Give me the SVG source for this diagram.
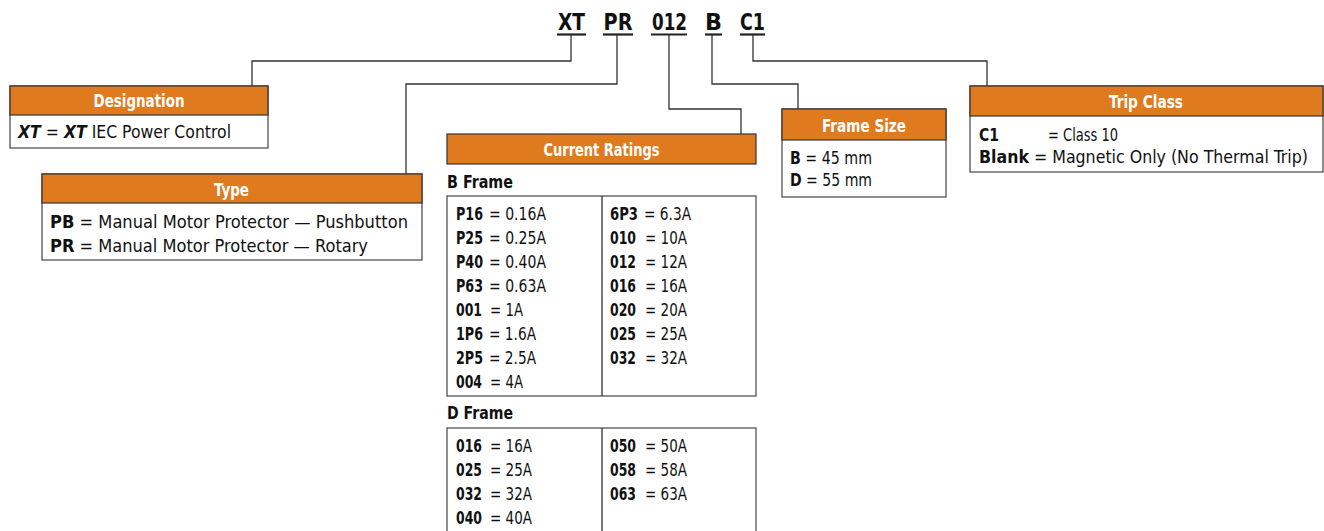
<svg xmlns="http://www.w3.org/2000/svg" width="1324" height="531" viewBox="0 0 1324 531">
<style>
text{font-family:"Liberation Sans Narrow","DejaVu Sans Condensed","Roboto Condensed",sans-serif;fill:#111;}
.code{font-size:22.5px;font-weight:bold;text-anchor:middle;}
.hdr{fill:#E07A1F;stroke:#333;stroke-width:1.2;}
.box{fill:#fff;stroke:#444;stroke-width:1.2;}
.ht{font-size:17px;font-weight:bold;fill:#fff;text-anchor:middle;}
.t{font-size:18px;}
.b{font-weight:bold;}
.sub{font-size:18px;font-weight:bold;}
.ln{fill:none;stroke:#333;stroke-width:1.3;}
.ul{stroke:#222;stroke-width:2.2;}
</style>
<g id="code">
<text class="code" x="571.5" y="30" textLength="27" lengthAdjust="spacingAndGlyphs">XT</text>
<text class="code" x="618" y="30" textLength="29" lengthAdjust="spacingAndGlyphs">PR</text>
<text class="code" x="669.5" y="30" textLength="35" lengthAdjust="spacingAndGlyphs">012</text>
<text class="code" x="713.5" y="30" textLength="17" lengthAdjust="spacingAndGlyphs">B</text>
<text class="code" x="752.5" y="30" textLength="25" lengthAdjust="spacingAndGlyphs">C1</text>
<line class="ul" x1="557" y1="34.5" x2="586" y2="34.5"/>
<line class="ul" x1="603" y1="34.5" x2="633" y2="34.5"/>
<line class="ul" x1="651" y1="34.5" x2="687" y2="34.5"/>
<line class="ul" x1="705" y1="34.5" x2="722" y2="34.5"/>
<line class="ul" x1="740" y1="34.5" x2="765" y2="34.5"/>
</g>
<g id="connectors">
<polyline class="ln" points="571,35 571,61 252,61 252,86"/>
<polyline class="ln" points="617,35 617,84 406,84 406,174"/>
<polyline class="ln" points="669,35 669,109 741,109 741,134"/>
<polyline class="ln" points="712,35 712,84 798,84 798,109"/>
<polyline class="ln" points="753,35 753,61 987,61 987,86"/>
</g>
<g id="designation">
<rect class="box" x="10" y="86" width="258" height="62"/>
<rect class="hdr" x="10" y="86" width="258" height="29"/>
<text class="ht" x="139" y="107" textLength="91" lengthAdjust="spacingAndGlyphs">Designation</text>
<text class="t" x="18" y="138" textLength="213" lengthAdjust="spacingAndGlyphs"><tspan class="b" font-style="italic">XT</tspan> = <tspan class="b" font-style="italic">XT</tspan> IEC Power Control</text>
</g>
<g id="type">
<rect class="box" x="42" y="174" width="380" height="86"/>
<rect class="hdr" x="42" y="174" width="380" height="29"/>
<text class="ht" x="231.5" y="196" textLength="35" lengthAdjust="spacingAndGlyphs">Type</text>
<text class="t" x="50" y="228" textLength="358" lengthAdjust="spacingAndGlyphs"><tspan class="b">PB</tspan> = Manual Motor Protector — Pushbutton</text>
<text class="t" x="50" y="252" textLength="318" lengthAdjust="spacingAndGlyphs"><tspan class="b">PR</tspan> = Manual Motor Protector — Rotary</text>
</g>
<g id="current-ratings">
<rect class="hdr" x="447" y="134" width="309" height="30"/>
<text class="ht" x="601.5" y="156" textLength="116" lengthAdjust="spacingAndGlyphs">Current Ratings</text>
<text class="sub" x="447" y="188" textLength="66" lengthAdjust="spacingAndGlyphs">B Frame</text>
<rect class="box" x="447" y="196" width="309" height="200"/>
<line class="ln" x1="602" y1="196" x2="602" y2="396"/>
<text class="t b" x="456" y="220" textLength="27" lengthAdjust="spacingAndGlyphs">P16</text><text class="t" x="489" y="220" textLength="57" lengthAdjust="spacingAndGlyphs">= 0.16A</text>
<text class="t b" x="456" y="244" textLength="27" lengthAdjust="spacingAndGlyphs">P25</text><text class="t" x="489" y="244" textLength="57" lengthAdjust="spacingAndGlyphs">= 0.25A</text>
<text class="t b" x="456" y="268" textLength="27" lengthAdjust="spacingAndGlyphs">P40</text><text class="t" x="489" y="268" textLength="57" lengthAdjust="spacingAndGlyphs">= 0.40A</text>
<text class="t b" x="456" y="292" textLength="27" lengthAdjust="spacingAndGlyphs">P63</text><text class="t" x="489" y="292" textLength="57" lengthAdjust="spacingAndGlyphs">= 0.63A</text>
<text class="t b" x="456" y="316" textLength="26" lengthAdjust="spacingAndGlyphs">001</text><text class="t" x="490" y="316" textLength="33" lengthAdjust="spacingAndGlyphs">= 1A</text>
<text class="t b" x="456" y="340" textLength="27" lengthAdjust="spacingAndGlyphs">1P6</text><text class="t" x="489" y="340" textLength="47" lengthAdjust="spacingAndGlyphs">= 1.6A</text>
<text class="t b" x="456" y="364" textLength="27" lengthAdjust="spacingAndGlyphs">2P5</text><text class="t" x="489" y="364" textLength="47" lengthAdjust="spacingAndGlyphs">= 2.5A</text>
<text class="t b" x="456" y="388" textLength="26" lengthAdjust="spacingAndGlyphs">004</text><text class="t" x="490" y="388" textLength="33" lengthAdjust="spacingAndGlyphs">= 4A</text>
<text class="t b" x="610" y="220" textLength="28" lengthAdjust="spacingAndGlyphs">6P3</text><text class="t" x="644" y="220" textLength="47" lengthAdjust="spacingAndGlyphs">= 6.3A</text>
<text class="t b" x="610" y="244" textLength="26" lengthAdjust="spacingAndGlyphs">010</text><text class="t" x="645" y="244" textLength="42" lengthAdjust="spacingAndGlyphs">= 10A</text>
<text class="t b" x="610" y="268" textLength="26" lengthAdjust="spacingAndGlyphs">012</text><text class="t" x="645" y="268" textLength="42" lengthAdjust="spacingAndGlyphs">= 12A</text>
<text class="t b" x="610" y="292" textLength="26" lengthAdjust="spacingAndGlyphs">016</text><text class="t" x="645" y="292" textLength="42" lengthAdjust="spacingAndGlyphs">= 16A</text>
<text class="t b" x="610" y="316" textLength="26" lengthAdjust="spacingAndGlyphs">020</text><text class="t" x="645" y="316" textLength="42" lengthAdjust="spacingAndGlyphs">= 20A</text>
<text class="t b" x="610" y="340" textLength="26" lengthAdjust="spacingAndGlyphs">025</text><text class="t" x="645" y="340" textLength="42" lengthAdjust="spacingAndGlyphs">= 25A</text>
<text class="t b" x="610" y="364" textLength="26" lengthAdjust="spacingAndGlyphs">032</text><text class="t" x="645" y="364" textLength="42" lengthAdjust="spacingAndGlyphs">= 32A</text>
<text class="sub" x="447" y="419" textLength="66" lengthAdjust="spacingAndGlyphs">D Frame</text>
<rect class="box" x="447" y="428" width="309" height="110"/>
<line class="ln" x1="602" y1="428" x2="602" y2="538"/>
<text class="t b" x="456" y="452" textLength="26" lengthAdjust="spacingAndGlyphs">016</text><text class="t" x="490" y="452" textLength="42" lengthAdjust="spacingAndGlyphs">= 16A</text>
<text class="t b" x="456" y="476" textLength="26" lengthAdjust="spacingAndGlyphs">025</text><text class="t" x="490" y="476" textLength="42" lengthAdjust="spacingAndGlyphs">= 25A</text>
<text class="t b" x="456" y="500" textLength="26" lengthAdjust="spacingAndGlyphs">032</text><text class="t" x="490" y="500" textLength="42" lengthAdjust="spacingAndGlyphs">= 32A</text>
<text class="t b" x="456" y="524" textLength="26" lengthAdjust="spacingAndGlyphs">040</text><text class="t" x="490" y="524" textLength="42" lengthAdjust="spacingAndGlyphs">= 40A</text>
<text class="t b" x="610" y="452" textLength="26" lengthAdjust="spacingAndGlyphs">050</text><text class="t" x="645" y="452" textLength="42" lengthAdjust="spacingAndGlyphs">= 50A</text>
<text class="t b" x="610" y="476" textLength="26" lengthAdjust="spacingAndGlyphs">058</text><text class="t" x="645" y="476" textLength="42" lengthAdjust="spacingAndGlyphs">= 58A</text>
<text class="t b" x="610" y="500" textLength="26" lengthAdjust="spacingAndGlyphs">063</text><text class="t" x="645" y="500" textLength="42" lengthAdjust="spacingAndGlyphs">= 63A</text>
</g>
<g id="frame-size">
<rect class="box" x="782" y="109" width="164" height="88"/>
<rect class="hdr" x="782" y="109" width="164" height="31"/>
<text class="ht" x="864" y="132" textLength="84" lengthAdjust="spacingAndGlyphs">Frame Size</text>
<text class="t" x="790" y="164" textLength="82" lengthAdjust="spacingAndGlyphs"><tspan class="b">B</tspan> = 45 mm</text>
<text class="t" x="790" y="186" textLength="82" lengthAdjust="spacingAndGlyphs"><tspan class="b">D</tspan> = 55 mm</text>
</g>
<g id="trip-class">
<rect class="box" x="970" y="86" width="353" height="86"/>
<rect class="hdr" x="970" y="86" width="353" height="30"/>
<text class="ht" x="1146" y="108" textLength="74" lengthAdjust="spacingAndGlyphs">Trip Class</text>
<text class="t b" x="979" y="141" textLength="20" lengthAdjust="spacingAndGlyphs">C1</text><text class="t" x="1048" y="141" textLength="70" lengthAdjust="spacingAndGlyphs">= Class 10</text>
<text class="t" x="979" y="163" textLength="329" lengthAdjust="spacingAndGlyphs"><tspan class="b">Blank</tspan> = Magnetic Only (No Thermal Trip)</text>
</g>
</svg>
